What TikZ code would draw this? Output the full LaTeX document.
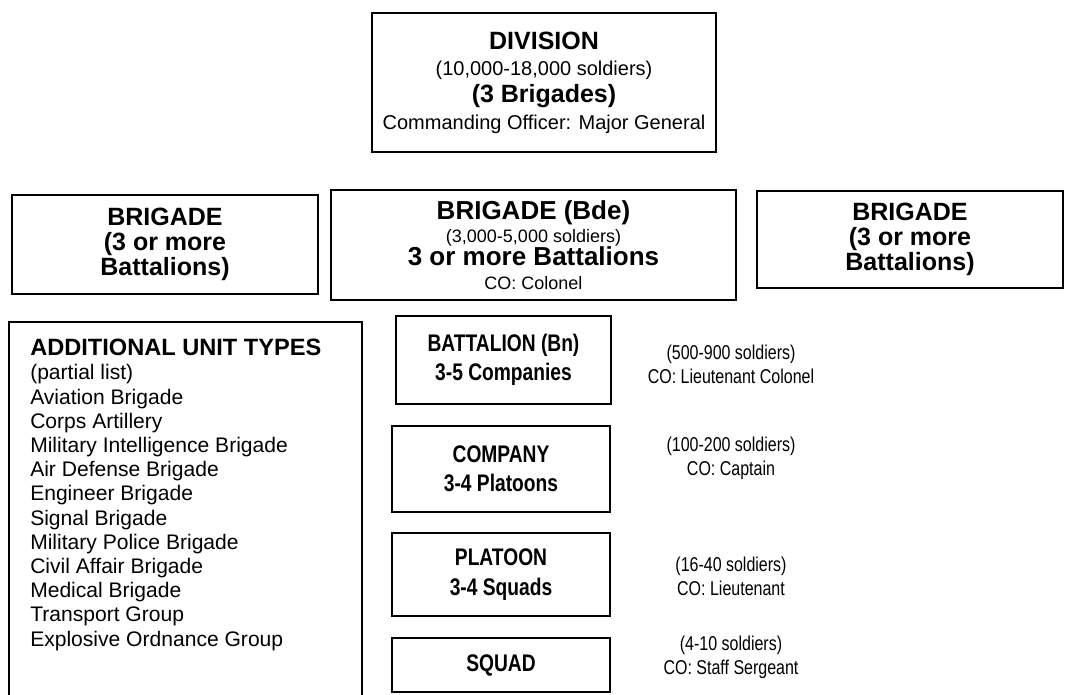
\documentclass[tikz,border=0pt]{standalone}
\usepackage{fontspec}
\setmainfont{Liberation Sans}
\newfontfamily\narrowsf[FakeStretch=0.8]{Liberation Sans}
\usepackage{tikz}

\newcommand{\headline}[1]{{\bfseries\fontsize{18.75}{18.75}\selectfont #1}}

\begin{document}
\begin{tikzpicture}[x=0.75pt, y=-0.75pt,
    unitbox/.style={draw, line width=0.9pt, inner sep=0pt, align=center},
    topfont/.style={font=\fontsize{15}{20}\selectfont},
    brigfont/.style={font=\bfseries\fontsize{18.75}{19}\selectfont},
    lowfont/.style={font=\narrowsf\bfseries\fontsize{18}{22}\selectfont},
    sidetext/.style={align=center, inner sep=0pt, font=\narrowsf\fontsize{15}{18}\selectfont}]
    \useasboundingbox (0,0) rectangle (1074,695);

    % top of the chart
    \node[unitbox, topfont, minimum width=258pt, minimum height=104.25pt] (div) at (544,82.5) {
        \headline{DIVISION}\\
        (10,000-18,000 soldiers)\\
        \headline{(3 Brigades)}\\
        Commanding Officer: Major General
    };

    % brigades
    \node[unitbox, brigfont, minimum width=229.5pt, minimum height=74.25pt] (brigL) at (165,244.5) {
        BRIGADE\\ (3 or more\\ Battalions)
    };
    \node[unitbox, font=\fontsize{13.5}{17.5}\selectfont, minimum width=303.75pt, minimum height=82.5pt] (brigC) at (533.5,245) {
        {\bfseries\fontsize{19.5}{17.5}\selectfont BRIGADE (Bde)}\\
        (3,000-5,000 soldiers)\\
        {\bfseries\fontsize{19.5}{17.5}\selectfont 3 or more Battalions}\\
        CO: Colonel
    };
    \node[unitbox, brigfont, minimum width=229.5pt, minimum height=72.75pt] (brigR) at (910,239.5) {
        BRIGADE\\ (3 or more\\ Battalions)
    };

    % list of other units
    \node[draw, line width=0.9pt, inner sep=0pt, minimum width=264.75pt, minimum height=287.25pt] (addbox) at (185.5,513.5) {};
    \node[align=left, anchor=north west, inner sep=0pt, font=\fontsize{15.8}{18.15}\selectfont] (addlist) at (30,339) {
        {\bfseries\fontsize{17.7}{18.15}\selectfont ADDITIONAL UNIT TYPES}\\
        (partial list)\\
        Aviation Brigade\\
        Corps Artillery\\
        Military Intelligence Brigade\\
        Air Defense Brigade\\
        Engineer Brigade\\
        Signal Brigade\\
        Military Police Brigade\\
        Civil Affair Brigade\\
        Medical Brigade\\
        Transport Group\\
        Explosive Ordnance Group
    };

    % smaller units
    \node[unitbox, lowfont, minimum width=161.25pt, minimum height=66pt] (bn) at (503.5,360) {BATTALION (Bn)\\ 3-5 Companies};
    \node[unitbox, lowfont, minimum width=163.5pt, minimum height=64.5pt] (co) at (501,469) {COMPANY\\ 3-4 Platoons};
    \node[unitbox, lowfont, minimum width=163.5pt, minimum height=62.25pt] (pl) at (501,574.5) {PLATOON\\ 3-4 Squads};
    \node[unitbox, lowfont, minimum width=163.5pt, minimum height=40.5pt] (sq) at (501,665) {SQUAD};

    % sizes and officers
    \node[sidetext] (bninfo) at (731,364) {(500-900 soldiers)\\ CO: Lieutenant Colonel};
    \node[sidetext] (coinfo) at (731,458) {(100-200 soldiers)\\ CO: Captain};
    \node[sidetext] (plinfo) at (731,576) {(16-40 soldiers)\\ CO: Lieutenant};
    \node[sidetext] (sqinfo) at (731,657) {(4-10 soldiers)\\ CO: Staff Sergeant};
\end{tikzpicture}
\end{document}
